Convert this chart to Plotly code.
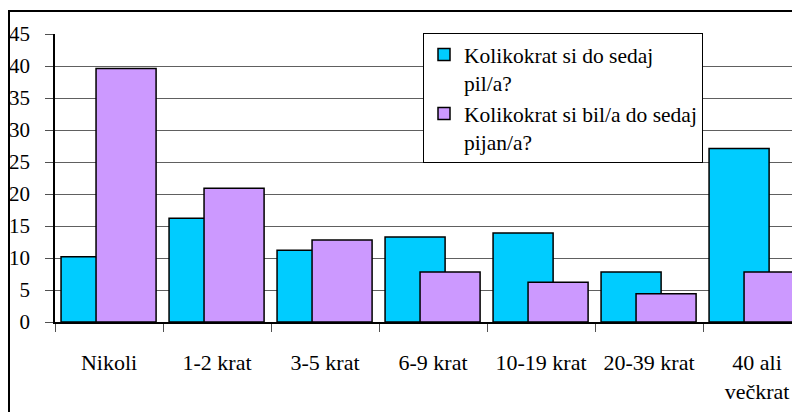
import plotly.graph_objects as go

categories = ["Nikoli", "1-2 krat", "3-5 krat", "6-9 krat", "10-19 krat", "20-39 krat", "40 ali<br>večkrat"]
pil = [10.2, 16.2, 11.2, 13.3, 13.9, 7.8, 27.1]
pijan = [39.6, 20.9, 12.8, 7.8, 6.2, 4.4, 7.8]
series_names = ["Kolikokrat si do sedaj<br>pil/a?", "Kolikokrat si bil/a do sedaj<br>pijan/a?"]
y_ticks = [0, 5, 10, 15, 20, 25, 30, 35, 40, 45]

FONT = "Liberation Serif, serif"

# page has 8px body margin; figure is laid out in figure coordinates
L, T, PW, PH = 47, 26, 745, 288

fig = go.Figure()
fig.add_trace(go.Bar(
    x=categories, y=pil, name=series_names[0],
    marker=dict(color="#00CCFF", line=dict(color="black", width=1.5)),
    width=0.556, offset=-0.444,
))
fig.add_trace(go.Bar(
    x=categories, y=pijan, name=series_names[1],
    marker=dict(color="#CC99FF", line=dict(color="black", width=1.5)),
    width=0.556, offset=-0.12,
))

fig.update_layout(
    template="none",
    width=792, height=404,
    margin=dict(l=L, r=0, t=T, b=404 - T - PH, autoexpand=False),
    barmode="overlay",
    paper_bgcolor="white", plot_bgcolor="white",
    font=dict(family=FONT, size=22, color="black"),
    showlegend=True,
    legend=dict(
        x=(415 - L) / PW, y=(T + PH - 25) / PH, xanchor="left", yanchor="top",
        bgcolor="white", bordercolor="black", borderwidth=1,
        font=dict(family=FONT, size=21.5, color="black"),
        valign="top", tracegroupgap=3, itemwidth=30,
    ),
    xaxis=dict(
        type="category", range=[-0.5, 6.398], automargin=False,
        showgrid=False, showline=True, linecolor="black", linewidth=1.5,
        ticks="outside", tickson="boundaries", ticklen=8, tickcolor="#505050",
        ticklabelstandoff=20,
        tickfont=dict(family=FONT, size=22, color="black"),
    ),
    yaxis=dict(
        range=[0, 45], tickvals=y_ticks, automargin=False,
        showgrid=True, gridcolor="#606060", gridwidth=1,
        showline=True, linecolor="black", linewidth=1.5,
        ticks="outside", ticklen=8, tickcolor="#505050",
        ticklabelstandoff=11,
        tickfont=dict(family=FONT, size=21, color="black"),
        zeroline=False,
    ),
    shapes=[dict(
        type="rect", xref="paper", yref="paper",
        x0=(1 - L) / PW, x1=1.2, y0=-0.5, y1=(T + PH - 3) / PH,
        line=dict(color="black", width=2), fillcolor="rgba(0,0,0,0)", layer="above",
    )],
)

fig.write_html("out.html")
